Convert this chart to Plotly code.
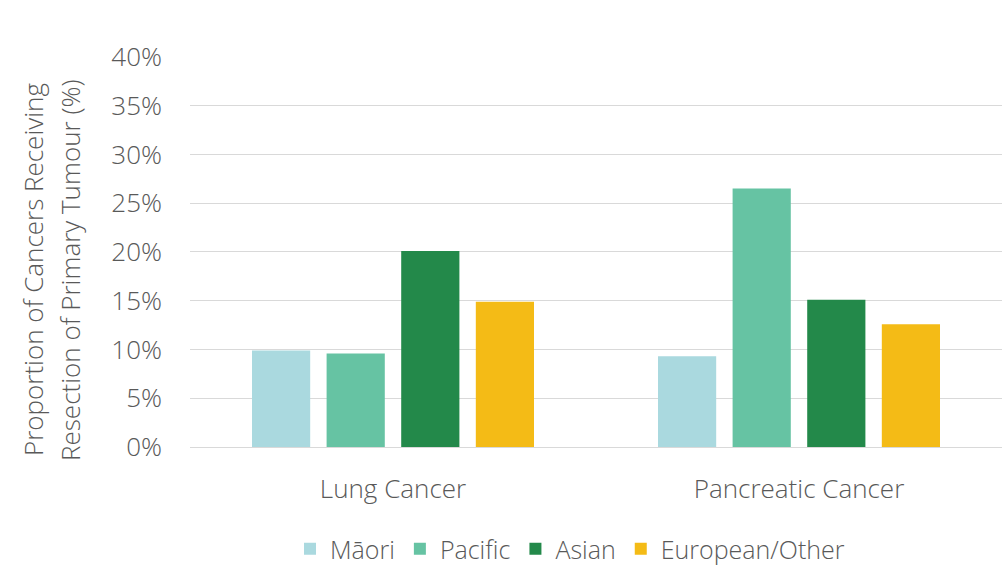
import plotly.graph_objects as go

# Resection proportions (%) by cancer type and ethnicity
categories = ["Lung Cancer", "Pancreatic Cancer"]
maori = [9.9, 9.3]
pacific = [9.6, 26.5]
asian = [20.1, 15.1]
european_other = [14.9, 12.6]

series = [
    ("Māori", maori, "#aad9df"),
    ("Pacific", pacific, "#66c3a3"),
    ("Asian", asian, "#23894a"),
    ("European/Other", european_other, "#f4bb16"),
]

tick_vals = [0, 5, 10, 15, 20, 25, 30, 35, 40]
tick_text = [f"{v}%" for v in tick_vals]

y_title_lines = ["Proportion of Cancers Receiving", "Resection of Primary Tumour (%)"]

FONT = "Open Sans"
GREY = "#595959"

W, H = 1002, 565
ML, MR, MT, MB = 190, 0, 56, 118
plot_w = W - ML - MR
plot_h = H - MT - MB

fig = go.Figure()
for name, vals, color in series:
    fig.add_trace(go.Bar(x=categories, y=vals, name=name,
                         marker=dict(color=color, line=dict(width=0))))

# Two-line rotated axis title, placed line by line
for i, (line, px) in enumerate(zip(y_title_lines, [33, 70])):
    fig.add_annotation(text=line, textangle=-90, showarrow=False,
                       xref="paper", yref="paper",
                       x=(px - ML) / plot_w, y=(H - MB - 270) / plot_h,
                       xanchor="center", yanchor="middle",
                       font=dict(size=26, color=GREY, family=FONT, weight=300))

fig.update_layout(
    width=W, height=H,
    margin=dict(l=ML, r=MR, t=MT, b=MB),
    paper_bgcolor="white", plot_bgcolor="white",
    barmode="group", bargap=0.265, bargroupgap=0.22,
    font=dict(family=FONT, color=GREY, size=25, weight=300),
    showlegend=True,
    legend=dict(orientation="h", x=(570 - ML) / plot_w, xanchor="center",
                yref="container", y=(H - 549) / H, yanchor="middle",
                font=dict(size=25, color=GREY, weight=300), itemwidth=30,
                traceorder="normal", itemclick=False),
    xaxis=dict(showgrid=False, showline=False, ticks="", zeroline=False,
               automargin=False,
               tickfont=dict(size=26, color=GREY), ticklabelstandoff=24),
    yaxis=dict(range=[0, 40.1], tickvals=tick_vals, ticktext=tick_text,
               automargin=False,
               showgrid=True, gridcolor="#d9d9d9", gridwidth=1,
               zeroline=True, zerolinecolor="#d9d9d9", zerolinewidth=1,
               showline=False, ticks="", ticklabelstandoff=27,
               tickfont=dict(size=26, color=GREY)),
)

fig.write_html("out.html")
